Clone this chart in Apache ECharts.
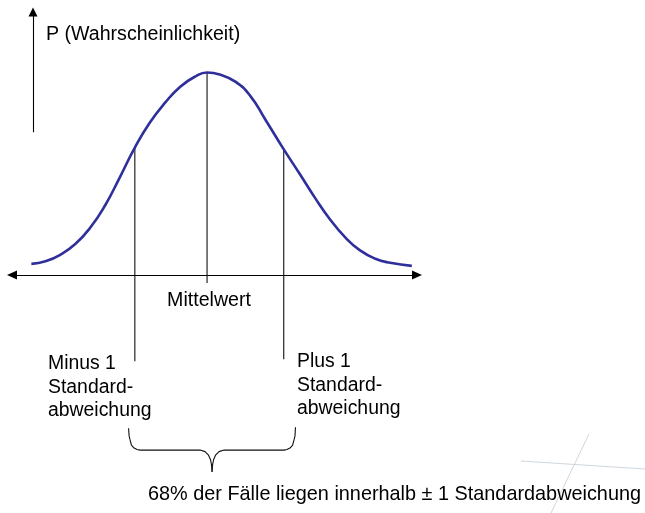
<!DOCTYPE html>
<html>
<head>
<meta charset="utf-8">
<script src="https://cdn.jsdelivr.net/npm/echarts@6/dist/echarts.min.js"></script>
<style>
  html, body { margin: 0; padding: 0; background: #fff; }
  #main { width: 645px; height: 513px; }
</style>
</head>
<body>
<div id="main"></div>
<script>
// x in standard deviations from the mean, P = probability density
var curveX = [-2.36, -2.17, -1.97, -1.77, -1.57, -1.37, -1.17, -0.97, -0.77, -0.56, -0.36, -0.16, 0,
  0.17, 0.38, 0.58, 0.78, 1.02, 1.25, 1.45, 1.65, 1.85, 2.05, 2.26, 2.46, 2.75];
var curveP = [0.022, 0.027, 0.040, 0.061, 0.093, 0.137, 0.193, 0.251, 0.300, 0.340, 0.371, 0.391, 0.399,
  0.395, 0.381, 0.353, 0.307, 0.250, 0.198, 0.152, 0.110, 0.075, 0.049, 0.032, 0.024, 0.018];

var meanLine = [[0, 0.399], [0, -0.016]];
var minusLine = [[-0.97, 0.251], [-0.97, -0.170]];
var plusLine = [[1.03, 0.249], [1.03, -0.166]];

// curly brace below the two standard deviation markers
var braceLeft = [[-1.054, -0.302], [-1.047, -0.317], [-1.034, -0.325], [-1.016, -0.335], [-0.980, -0.341], [-0.940, -0.344], [-0.899, -0.345],
  [-0.094, -0.345], [-0.027, -0.348], [0.020, -0.355], [0.047, -0.364], [0.060, -0.374], [0.067, -0.388]];
var braceRight = [[0.067, -0.388], [0.074, -0.374], [0.087, -0.364], [0.114, -0.355], [0.161, -0.348], [0.228, -0.345],
  [1.034, -0.345], [1.074, -0.344], [1.114, -0.341], [1.150, -0.335], [1.168, -0.325], [1.181, -0.317], [1.188, -0.300]];

var yTitle = 'P (Wahrscheinlichkeit)';
var meanLabel = 'Mittelwert';
var minusLabel = 'Minus 1\nStandard-\nabweichung';
var plusLabel = 'Plus 1\nStandard-\nabweichung';
var noteLabel = '68% der Fälle liegen innerhalb ± 1 Standardabweichung';

var font = '"Liberation Sans", Arial, sans-serif';

var myChart = echarts.init(document.getElementById('main'));

var curveData = curveX.map(function (x, i) { return [x, curveP[i]]; });

var thinLine = function (data) {
  return {
    type: 'line',
    xAxisIndex: 0,
    yAxisIndex: 0,
    data: data,
    showSymbol: false,
    symbol: 'none',
    clip: false,
    silent: true,
    lineStyle: { color: '#111', width: 1.1 }
  };
};

var textEl = function (txt, x, y, align, vAlign, size) {
  return {
    type: 'text',
    x: x,
    y: y,
    silent: true,
    style: {
      text: txt,
      font: size + 'px ' + font,
      fill: '#000',
      align: align,
      verticalAlign: vAlign,
      textAlign: align,
      textVerticalAlign: vAlign,
      lineHeight: 23.5
    }
  };
};

var option = {
  animation: false,
  backgroundColor: '#fff',
  grid: [
    { left: 12, top: 72, width: 405, height: 431.375 },
    { left: 33, top: 12, width: 10, height: 119.7 }
  ],
  xAxis: [
    {
      gridIndex: 0,
      type: 'value',
      min: -2.62,
      max: 2.82,
      axisLine: {
        show: true,
        onZero: true,
        symbol: ['triangle', 'triangle'],
        symbolSize: [9, 10],
        lineStyle: { color: '#000', width: 1.1 }
      },
      axisTick: { show: false },
      axisLabel: { show: false },
      splitLine: { show: false }
    },
    { gridIndex: 1, type: 'value', min: 0, max: 1, show: false }
  ],
  yAxis: [
    { gridIndex: 0, type: 'value', min: -0.45, max: 0.4, show: false },
    {
      gridIndex: 1,
      type: 'value',
      min: 0,
      max: 1,
      axisLine: {
        show: true,
        onZero: false,
        symbol: ['none', 'triangle'],
        symbolSize: [9, 9],
        lineStyle: { color: '#000', width: 1.1 }
      },
      axisTick: { show: false },
      axisLabel: { show: false },
      splitLine: { show: false }
    }
  ],
  series: [
    thinLine(meanLine),
    thinLine(minusLine),
    thinLine(plusLine),
    thinLine(braceLeft),
    thinLine(braceRight),
    {
      name: 'P',
      type: 'line',
      data: curveData,
      smooth: 0.5,
      symbol: 'none',
      clip: false,
      silent: true,
      lineStyle: { color: '#2f2f9c', width: 2.6 }
    }
  ],
  graphic: [
    { type: 'line', silent: true, shape: { x1: 521, y1: 461, x2: 645, y2: 469 }, style: { stroke: '#cfd6dc', lineWidth: 1 } },
    { type: 'line', silent: true, shape: { x1: 589, y1: 434, x2: 551, y2: 513 }, style: { stroke: '#cfd6dc', lineWidth: 1 } },
    textEl(yTitle, 46, 35, 'left', 'middle', 19.6),
    textEl(meanLabel, 209, 301, 'center', 'middle', 19.6),
    textEl(minusLabel, 48, 352, 'left', 'top', 19.4),
    textEl(plusLabel, 297, 350, 'left', 'top', 19.4),
    textEl(noteLabel, 148, 495, 'left', 'middle', 19.85)
  ]
};

myChart.setOption(option);
</script>
</body>
</html>
